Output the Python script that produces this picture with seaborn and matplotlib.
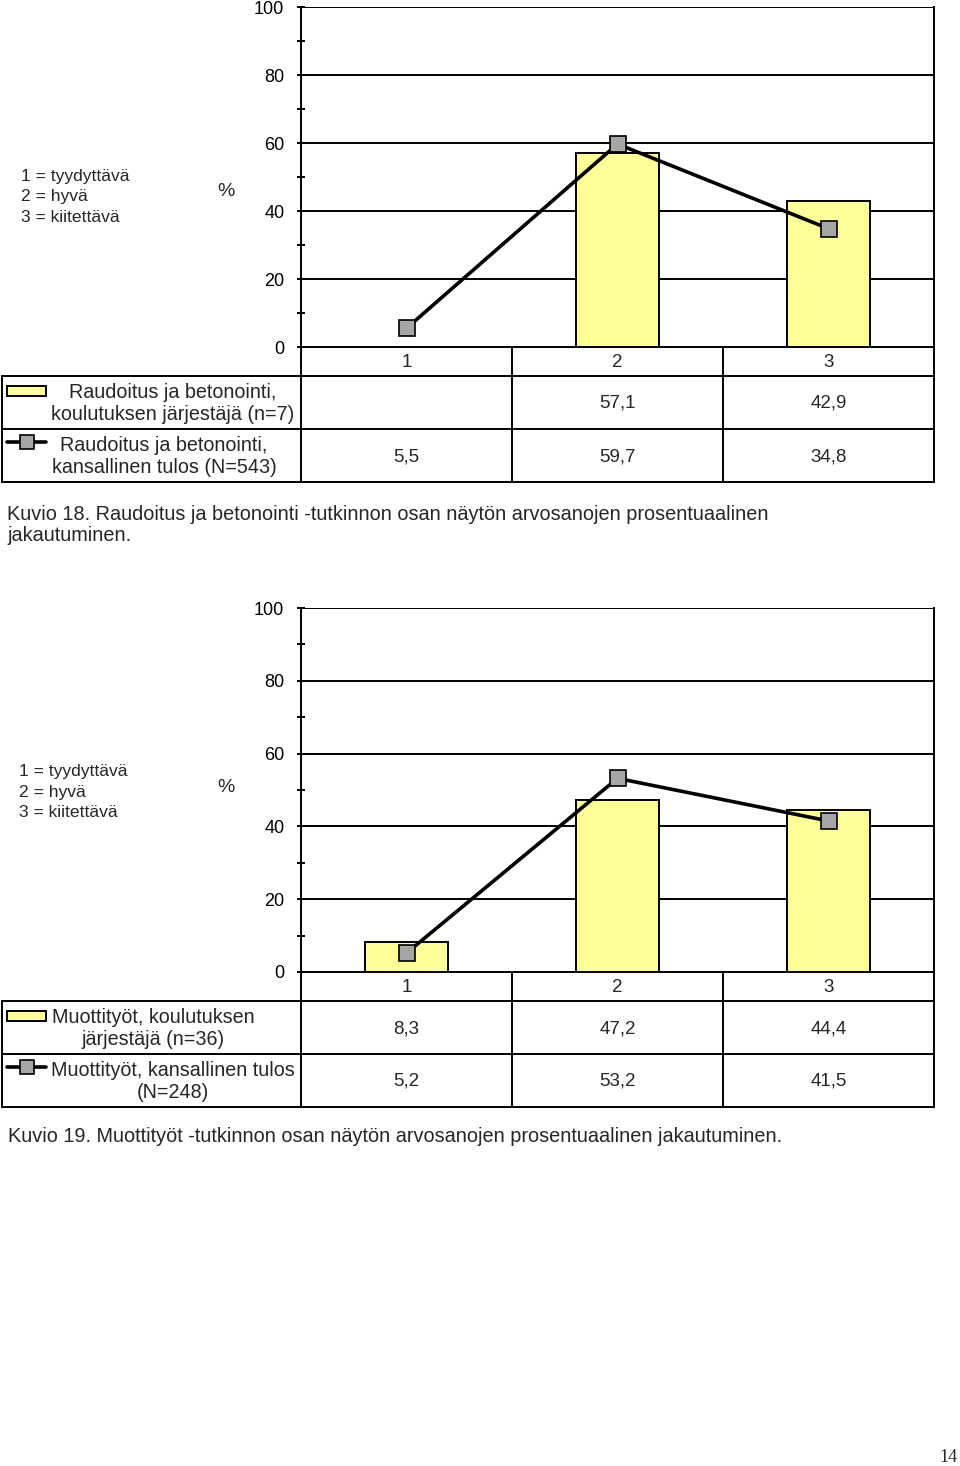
import numpy as np
import pandas as pd
import matplotlib
matplotlib.use("Agg")
import matplotlib.pyplot as plt
import seaborn as sns

# Arvosanat ja tulokset
categories = ["1", "2", "3"]
scale_lines = ["1 = tyydyttävä", "2 = hyvä", "3 = kiitettävä"]

bars_18 = [np.nan, 57.1, 42.9]
line_18 = [5.5, 59.7, 34.8]
bar_label_18 = "Raudoitus ja betonointi,\nkoulutuksen järjestäjä (n=7)"
line_label_18 = "Raudoitus ja betonointi,\nkansallinen tulos (N=543)"
caption_18 = ("Kuvio 18. Raudoitus ja betonointi -tutkinnon osan näytön arvosanojen prosentuaalinen\n"
              "jakautuminen.")

bars_19 = [8.3, 47.2, 44.4]
line_19 = [5.2, 53.2, 41.5]
bar_label_19 = "Muottityöt, koulutuksen\njärjestäjä (n=36)"
line_label_19 = "Muottityöt, kansallinen tulos\n(N=248)"
caption_19 = "Kuvio 19. Muottityöt -tutkinnon osan näytön arvosanojen prosentuaalinen jakautuminen."

page_number = "14"

W, H = 960, 1466
sns.set_theme(style="white")
plt.rcParams["font.family"] = ["Liberation Sans", "DejaVu Sans"]

fig = plt.figure(figsize=(W / 100, H / 100), dpi=100)
fig.patch.set_facecolor("white")

# Taustakerros pikselikoordinaateilla (taulukko ja tekstit)
bg = fig.add_axes([0, 0, 1, 1], zorder=0)
bg.set_xlim(0, W)
bg.set_ylim(H, 0)
bg.axis("off")

LW = 1.4
X0, X1 = 301, 934
COL_W = (X1 - X0) / 3


def fmt(v):
    if v is None or (isinstance(v, float) and np.isnan(v)):
        return ""
    return f"{v:.1f}".replace(".", ",")


def draw_chart(y_top, y_zero, row_h1, row_h, bars, line, bar_label, line_label,
               bar_lab_x, line_lab_x, scale_y, scale_x):
    ax = fig.add_axes([X0 / W, 1 - y_zero / H, (X1 - X0) / W, (y_zero - y_top) / H], zorder=2)
    ax.patch.set_alpha(0)

    df = pd.DataFrame({"cat": categories, "val": bars}).dropna()
    sns.barplot(data=df, x="cat", y="val", order=categories, color="#ffff99",
                saturation=1, edgecolor="black", linewidth=LW, width=0.39, ax=ax, zorder=3)
    sns.lineplot(x=np.arange(len(categories)), y=line, color="black", linewidth=2.6,
                 marker="s", markersize=11, markerfacecolor="#a6a6a6",
                 markeredgecolor="black", markeredgewidth=1.2, ax=ax, zorder=4)

    ax.set_xlim(-0.5, 2.5)
    ax.set_ylim(0, 100)
    ax.set_yticks([0, 20, 40, 60, 80, 100])
    ax.set_yticks(np.arange(10, 100, 20), minor=True)
    ax.yaxis.grid(True, which="major", color="black", linewidth=LW, zorder=0)
    ax.set_axisbelow(True)
    ax.tick_params(axis="y", which="both", left=True, direction="inout", length=6,
                   width=LW, color="black", labelsize=13, pad=9, labelcolor="black")
    ax.set_xticks([])
    ax.set_xlabel("")
    ax.set_ylabel("")
    for s in ["left", "right", "bottom"]:
        ax.spines[s].set_visible(True)
        ax.spines[s].set_color("black")
        ax.spines[s].set_linewidth(LW)
    ax.spines["top"].set_visible(False)

    # Taulukko
    r1 = y_zero + row_h1
    r2 = r1 + row_h
    r3 = r2 + row_h
    kw = dict(color="black", linewidth=LW)
    for y in (r1, r2, r3):
        bg.plot([2, X1], [y, y], **kw)
    bg.plot([2, 2], [r1, r3], **kw)
    bg.plot([X0, X0], [y_zero, r3], **kw)
    bg.plot([X1, X1], [y_zero, r3], **kw)
    for i in (1, 2):
        bg.plot([X0 + i * COL_W] * 2, [y_zero, r3], **kw)

    for i, c in enumerate(categories):
        xc = X0 + (i + 0.5) * COL_W
        bg.text(xc, (y_zero + r1) / 2 + 1, c, ha="center", va="center", fontsize=13.5)
        bg.text(xc, (r1 + r2) / 2 + 1, fmt(bars[i]), ha="center", va="center", fontsize=13.5)
        bg.text(xc, (r2 + r3) / 2 + 1, fmt(line[i]), ha="center", va="center", fontsize=13.5)

    # Selitteet taulukossa
    bg.add_patch(plt.Rectangle((7, r1 + 10), 39, 10, facecolor="#ffff99",
                               edgecolor="black", linewidth=LW))
    bg.plot([7, 46], [r2 + 13, r2 + 13], color="black", linewidth=2.6)
    bg.plot([27], [r2 + 13], marker="s", markersize=10, markerfacecolor="#a6a6a6",
            markeredgecolor="black", markeredgewidth=1.2)
    bg.text(bar_lab_x, (r1 + r2) / 2 + 1, bar_label, ha="center", va="center",
            fontsize=14.2, linespacing=1.15)
    bg.text(line_lab_x, (r2 + r3) / 2 + 1, line_label, ha="center", va="center",
            fontsize=14.2, linespacing=1.15)

    # Asteikon selite ja yksikkö
    bg.text(scale_x, scale_y, "\n".join(scale_lines), ha="left", va="center",
            fontsize=12.6, linespacing=1.42)
    bg.text(226, scale_y - 5, "%", ha="center", va="center", fontsize=14)
    return r3


draw_chart(7, 347, 29, 53, bars_18, line_18, bar_label_18, line_label_18,
           173, 164, 197, 21)
bg.text(7, 525, caption_18, ha="left", va="center", fontsize=14.3, linespacing=1.15)

draw_chart(608, 972, 29, 53, bars_19, line_19, bar_label_19, line_label_19,
           153, 173, 792, 19)
bg.text(8, 1136, caption_19, ha="left", va="center", fontsize=14.3)

bg.text(958, 1458, page_number, ha="right", va="center", fontsize=13,
        family=["Liberation Serif", "DejaVu Serif"])

fig.savefig("out.png", dpi=100, facecolor="white")
